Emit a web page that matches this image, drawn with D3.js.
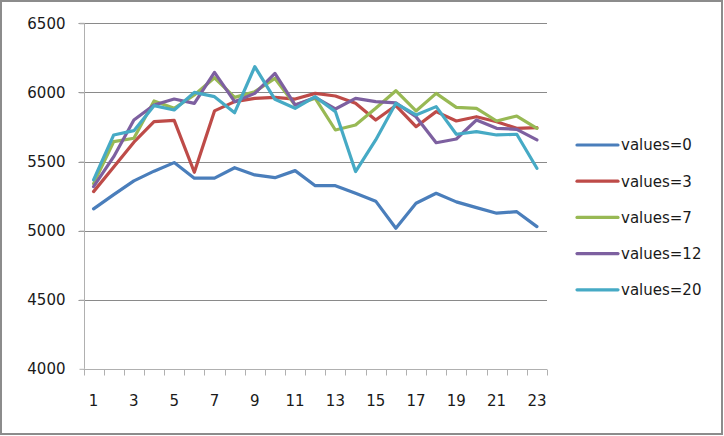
<!DOCTYPE html>
<html>
<head>
<meta charset="utf-8">
<script src="https://cdn.jsdelivr.net/npm/d3@7/dist/d3.min.js"></script>
<style>
  html, body { margin: 0; padding: 0; background: #fff; }
  svg { display: block; }
  text { font-family: "DejaVu Sans", sans-serif; fill: #1a1a1a; }
</style>
</head>
<body>
<svg id="chart" width="724" height="436"></svg>
<script>
const categories = d3.range(1, 24);
const tickLabels = [1, 3, 5, 7, 9, 11, 13, 15, 17, 19, 21, 23];
const yTicks = [4000, 4500, 5000, 5500, 6000, 6500];
const seriesNames = ["values=0", "values=3", "values=7", "values=12", "values=20"];
const seriesColors = ["#4A7EBB", "#BE4B48", "#98B954", "#7D60A0", "#46AAC5"];

const values0  = [5157, 5260, 5360, 5430, 5492, 5379, 5380, 5455, 5403, 5383, 5434, 5325, 5325, 5270, 5213, 5017, 5198, 5270, 5208, 5166, 5126, 5137, 5029];
const values3  = [5282, 5460, 5640, 5788, 5798, 5422, 5866, 5933, 5957, 5964, 5952, 5993, 5974, 5921, 5800, 5905, 5752, 5861, 5793, 5824, 5788, 5740, 5745];
const values7  = [5340, 5644, 5668, 5938, 5885, 5981, 6106, 5964, 6005, 6101, 5909, 5957, 5728, 5764, 5885, 6012, 5866, 5993, 5892, 5885, 5793, 5829, 5740];
const values12 = [5318, 5535, 5800, 5909, 5952, 5921, 6145, 5933, 5993, 6138, 5909, 5964, 5880, 5957, 5933, 5924, 5824, 5636, 5663, 5800, 5740, 5733, 5656];
const values20 = [5367, 5692, 5723, 5904, 5873, 6000, 5969, 5853, 6186, 5950, 5885, 5969, 5861, 5427, 5656, 5921, 5837, 5897, 5697, 5716, 5692, 5697, 5451];

const seriesValues = [values0, values3, values7, values12, values20];

const svg = d3.select("#chart");
const W = 724, H = 436;

// outer frame
svg.append("rect").attr("x", 1).attr("y", 1).attr("width", W - 3).attr("height", H - 3)
  .attr("fill", "#fff").attr("stroke", "#8c8c8c").attr("stroke-width", 2);

const plotL = 83.5, plotR = 547, plotT = 23.3, plotB = 368.8;

const x = d3.scaleBand().domain(categories).range([plotL, plotR]).padding(0);
const y = d3.scaleLinear().domain([4000, 6500]).range([plotB, plotT]);

// gridlines
svg.append("g").selectAll("line").data(yTicks.filter(v => v !== 4000)).join("line")
  .attr("x1", plotL - 5).attr("x2", plotR)
  .attr("y1", d => Math.round(y(d)) + 0.5).attr("y2", d => Math.round(y(d)) + 0.5)
  .attr("stroke", "#8a8a8a").attr("stroke-width", 1);

// y axis
const yAxis = d3.axisLeft(y).tickValues(yTicks).tickSize(5).tickPadding(14).tickFormat(d3.format("d"));
const gy = svg.append("g").attr("transform", `translate(${Math.round(plotL) + 0.5},0)`).call(yAxis);
gy.select(".domain").attr("stroke", "#b0b0b0").attr("d", `M-5,${y(6500)}H0V${y(4000)}`);
gy.selectAll(".tick line").attr("stroke", "#b0b0b0");
gy.selectAll(".tick text").style("font-size", "15px").style("font-family", "DejaVu Sans, sans-serif").attr("fill", "#1a1a1a");

// x axis (ticks between categories)
const gx = svg.append("g").attr("transform", `translate(0,${Math.round(plotB) + 0.5})`);
gx.append("line").attr("x1", plotL).attr("x2", plotR).attr("y1", 0).attr("y2", 0).attr("stroke", "#b0b0b0");
const bounds = categories.map(c => x(c)).concat([x(categories[categories.length - 1]) + x.bandwidth()]);
gx.selectAll("line.tk").data(bounds).join("line").attr("class", "tk")
  .attr("x1", d => Math.round(d) + 0.5).attr("x2", d => Math.round(d) + 0.5)
  .attr("y1", 0).attr("y2", 6).attr("stroke", "#b0b0b0");
gx.selectAll("text").data(tickLabels).join("text")
  .attr("x", d => x(d) + x.bandwidth() / 2).attr("y", 36)
  .attr("text-anchor", "middle").style("font-size", "15px").text(d => d);

// lines
const line = d3.line().x((d, i) => x(categories[i]) + x.bandwidth() / 2).y(d => y(d));
svg.append("g").selectAll("path").data(seriesValues).join("path")
  .attr("d", d => line(d)).attr("fill", "none")
  .attr("stroke", (d, i) => seriesColors[i]).attr("stroke-width", 3.2)
  .attr("stroke-linejoin", "round").attr("stroke-linecap", "round");

// legend
const lg = svg.append("g");
const items = lg.selectAll("g").data(seriesNames).join("g")
  .attr("transform", (d, i) => `translate(577,${145 + i * 36.2})`);
items.append("line").attr("x1", 0).attr("x2", 41).attr("y1", 0).attr("y2", 0)
  .attr("stroke", (d, i) => seriesColors[i]).attr("stroke-width", 3.2).attr("stroke-linecap", "round");
items.append("text").attr("x", 44).attr("y", 0).attr("dy", "0.36em")
  .style("font-size", "15px").text(d => d);
</script>
</body>
</html>
